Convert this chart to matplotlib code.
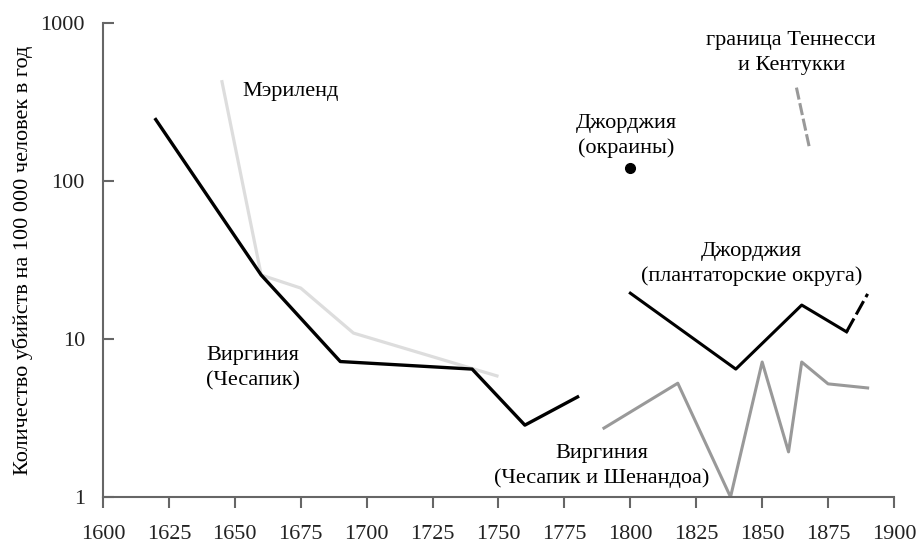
import matplotlib.pyplot as plt

plt.rcParams["font.family"] = ["Liberation Serif", "DejaVu Serif"]
plt.rcParams["font.size"] = 16

# Virginia (Chesapeake)
va_years = [1620, 1660, 1690, 1740, 1760, 1780]
va_rates = [245, 25.4, 7.2, 6.45, 2.85, 4.3]

# Maryland
md_years = [1645, 1660, 1675, 1695, 1750]
md_rates = [435, 25.4, 21, 10.9, 5.8]

# Georgia (plantation counties)
gap_years = [1800, 1840, 1865, 1882]
gap_rates = [19.5, 6.45, 16.4, 11.1]
gap_dash_years = [1882, 1890]
gap_dash_rates = [11.1, 19.3]

# Virginia (Chesapeake and Shenandoah)
vs_years = [1790, 1818, 1838, 1850, 1860, 1865, 1875, 1890]
vs_rates = [2.73, 5.25, 1.0, 7.15, 1.93, 7.15, 5.2, 4.9]

# Georgia backcountry
gab_year = [1800]
gab_rate = [120]

# Tennessee / Kentucky border
tk_years = [1863, 1868]
tk_rates = [390, 160]

fig = plt.figure(figsize=(9.2, 5.43), dpi=100)
ax = fig.add_axes([103 / 920, 1 - 497 / 543, 791 / 920, 474 / 543])

ax.plot(md_years, md_rates, color="#dddddd", lw=2.3, solid_capstyle="butt")
ax.plot(va_years, va_rates, color="black", lw=2.4)
ax.plot(gap_years, gap_rates, color="black", lw=2.2)
ax.plot(gap_dash_years, gap_dash_rates, color="black", lw=2.2, dashes=(5, 1.5))
ax.plot(vs_years, vs_rates, color="#999999", lw=2.2)
ax.plot(tk_years, tk_rates, color="#999999", lw=2.2, dashes=(4, 1.2))
ax.plot(gab_year, gab_rate, "o", color="black", ms=7)

ax.set_yscale("log")
ax.set_xlim(1600, 1900)
ax.set_ylim(1, 1000)
ax.set_xticks(range(1600, 1901, 25))
ax.set_yticks([1, 10, 100, 1000])
ax.set_yticklabels(["1", "10", "100", "1000"])
ax.minorticks_off()

for side in ["top", "right"]:
    ax.spines[side].set_visible(False)
for side in ["left", "bottom"]:
    ax.spines[side].set_color("#666666")
    ax.spines[side].set_linewidth(1.5)

ax.tick_params(axis="y", direction="in", length=8, width=1.5, color="#666666",
               pad=13, labelcolor="#222222")
ax.tick_params(axis="x", direction="out", length=8, width=1.5, color="#666666",
               pad=12, labelcolor="#222222")

ax.set_ylabel("Количество убийств на 100 000 человек в год")
ax.yaxis.set_label_coords(-70 / 791, 0.5)

# annotations
ax.text(1653, 366, "Мэриленд", ha="left", va="center")
ax.text(1657, 6.55, "Виргиния\n(Чесапик)", ha="center", va="center", linespacing=1.4)
ax.text(1798.3, 193, "Джорджия\n(окраины)", ha="center", va="center", linespacing=1.4)
ax.text(1861, 646, "граница Теннесси\nи Кентукки", ha="center", va="center", linespacing=1.4)
ax.text(1846, 29.8, "Джорджия\n(плантаторские округа)", ha="center", va="center", linespacing=1.3)
ax.text(1789, 1.57, "Виргиния\n(Чесапик и Шенандоа)", ha="center", va="center", linespacing=1.4)

fig.savefig("out.png", dpi=100)
